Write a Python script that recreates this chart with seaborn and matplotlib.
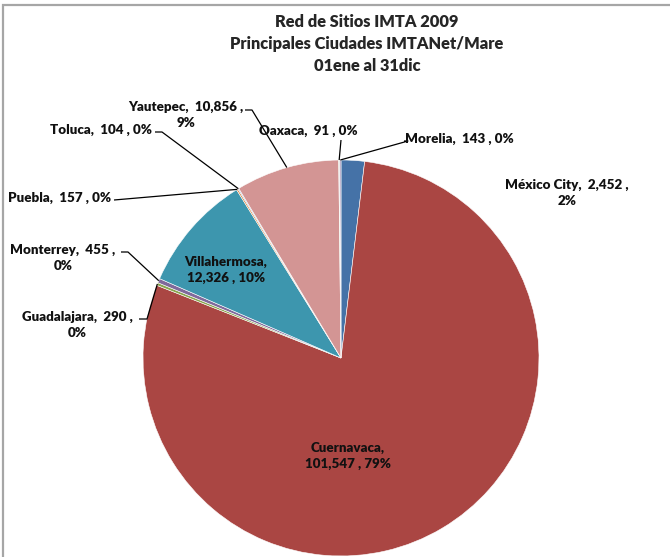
import matplotlib
matplotlib.use("Agg")
import numpy as np
import matplotlib.pyplot as plt
import seaborn as sns
from matplotlib.patches import Rectangle

# data, in Excel's series order (clockwise from 12 o'clock)
cities = ["México City", "Cuernavaca", "Guadalajara", "Monterrey", "Villahermosa",
          "Puebla", "Toluca", "Yautepec", "Oaxaca", "Morelia"]
visits = [2452, 101547, 290, 455, 12326, 157, 104, 10856, 91, 143]
pct_shown = [2, 79, 0, 0, 10, 0, 0, 9, 0, 0]

colors = ["#4572A7", "#AA4643", "#89A54E", "#80699B", "#3D96AE",
          "#DB843D", "#92A8CD", "#D39594", "#B5CA92", "#A99BBD"]

title = "Red de Sitios IMTA 2009\nPrincipales Ciudades IMTANet/Mare\n01ene al 31dic"

W, H = 670, 557
CX, CY, R = 341, 358, 198


def px(x, y):
    # pixel position -> data coords (pie radius = 1)
    return (x - CX) / R, (CY - y) / R


# label layout: text position (px), alignment, line break, leader elbow points (px)
layout = {
    "México City": dict(pos=(567, 193), ha="center", brk="value", lead=None),
    "Cuernavaca": dict(pos=(348, 456), ha="center", brk="name", lead=None),
    "Villahermosa": dict(pos=(226, 270), ha="center", brk="name", lead=None),
    "Guadalajara": dict(pos=(77, 325), ha="center", brk="value", lead=[(139, 319), (147, 319)]),
    "Monterrey": dict(pos=(63, 258), ha="center", brk="value", lead=[(121, 252), (128, 252)]),
    "Puebla": dict(pos=(60, 198), ha="center", brk=None, lead=[(114, 200)]),
    "Toluca": dict(pos=(101, 130), ha="center", brk=None, lead=[(155, 132), (162, 132)]),
    "Yautepec": dict(pos=(186, 115), ha="center", brk="value", lead=[(245, 110), (252, 110)]),
    "Oaxaca": dict(pos=(308, 131), ha="center", brk=None, lead=[(341, 140)]),
    "Morelia": dict(pos=(459, 139), ha="center", brk=None, lead=[(404, 141), (408, 141)]),
}

sns.set_theme(style="white")
plt.rcParams["font.family"] = ["Lato", "DejaVu Sans"]

fig = plt.figure(figsize=(W / 100, H / 100), dpi=100)
ax = fig.add_axes([0, 0, 1, 1])

wedges, _ = ax.pie(visits, colors=colors, startangle=90, counterclock=False,
                   radius=1.0, center=(0, 0),
                   wedgeprops=dict(edgecolor="white", linewidth=0.4))
ax.set_xlim(-CX / R, (W - CX) / R)
ax.set_ylim(-(H - CY) / R, CY / R)
ax.set_aspect("equal", adjustable="datalim")
ax.axis("off")

for w, name, v, p in zip(wedges, cities, visits, pct_shown):
    lay = layout[name]
    if lay["brk"] == "value":
        txt = f"{name},  {v:,} ,\n{p}%"
    elif lay["brk"] == "name":
        txt = f"{name},\n{v:,} , {p}%"
    else:
        txt = f"{name},  {v:,} , {p}%"
    tx, ty = px(*lay["pos"])
    ax.text(tx, ty, txt, ha=lay["ha"], va="center", fontsize=9.6,
            fontweight="heavy", color="#111111", linespacing=1.35)
    if lay["lead"]:
        mid = np.deg2rad((w.theta1 + w.theta2) / 2)
        pts = [px(*q) for q in lay["lead"]] + [(np.cos(mid), np.sin(mid))]
        xs, ys = zip(*pts)
        ax.plot(xs, ys, color="black", lw=0.9, solid_capstyle="butt")

fig.text(367 / W, 1 - 44 / H, title, ha="center", va="center", fontsize=11.8,
         fontweight="heavy", linespacing=1.45)

# chart frame (left and top edges visible)
fig.patches.append(Rectangle((3 / W, -0.1), 1.2, 1.1 - 5 / H, transform=fig.transFigure,
                             fill=False, edgecolor="#A6A6A6", linewidth=1.6))

fig.savefig("out.png", dpi=100)
